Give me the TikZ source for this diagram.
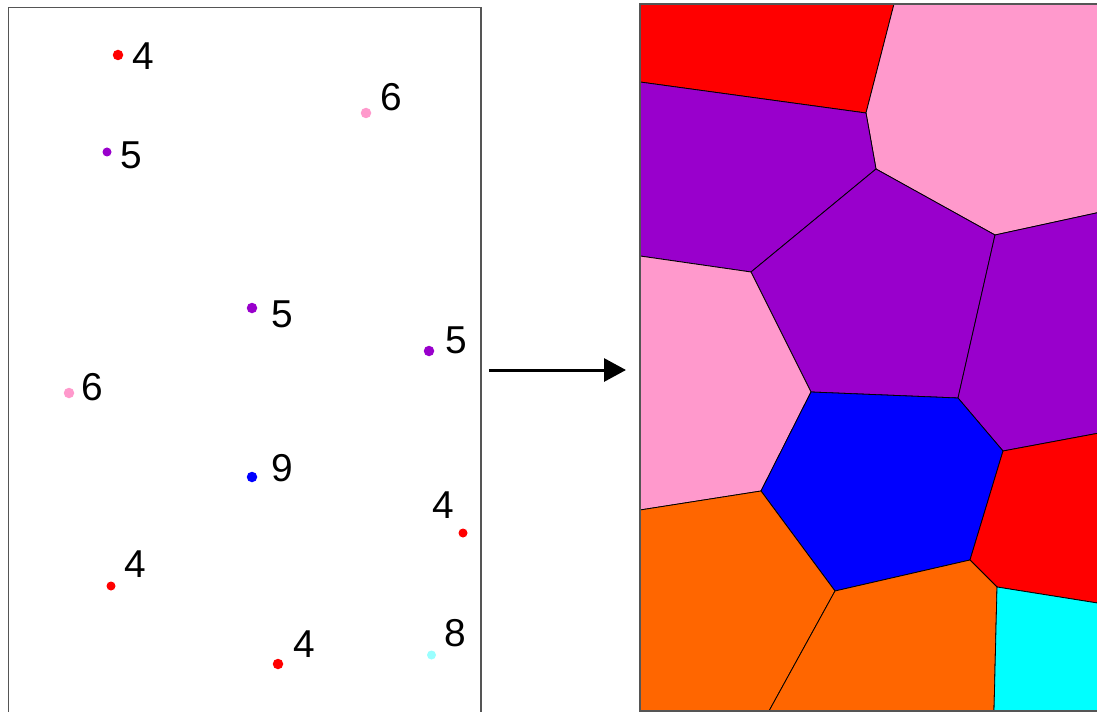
\documentclass[tikz,border=0pt]{standalone}
\usepackage{fontspec}
\setmainfont{Liberation Sans}
\usetikzlibrary{arrows.meta}
\definecolor{cred}{HTML}{FF0000}
\definecolor{cpink}{HTML}{FF99CC}
\definecolor{cpurple}{HTML}{9900CC}
\definecolor{cblue}{HTML}{0000FF}
\definecolor{corange}{HTML}{FF6600}
\definecolor{ccyan}{HTML}{00FFFF}
\definecolor{clightcyan}{HTML}{99FFFF}
\definecolor{frame}{HTML}{555555}
\begin{document}
\begin{tikzpicture}[x=1bp,y=-1bp,
  site/.style={circle,inner sep=0pt,minimum size=10.5bp,fill=#1},
  num/.style={font=\fontsize{39}{42}\selectfont,inner sep=0pt,anchor=center},
  cell/.style={fill=#1,draw=black,line width=0.8bp,line join=round},
  panel/.style={draw=frame,line width=1.2bp}]
\useasboundingbox (0,0) rectangle (1097,712);
\clip (0,0) rectangle (1097,712);

% point set
\draw[panel] (8.5,7.5) rectangle (481,730);
\node[site=cred]       (p1)  at (118,55)  {};
\node[site=cpink]      (p2)  at (366,113) {};
\node[site=cpurple,minimum size=9bp] (p3) at (107,152) {};
\node[site=cpurple]    (p4)  at (252,308) {};
\node[site=cpurple]    (p5)  at (429,351) {};
\node[site=cpink]      (p6)  at (69,393)  {};
\node[site=cblue]      (p7)  at (252,477) {};
\node[site=cred,minimum size=9bp] (p8) at (463,533) {};
\node[site=cred,minimum size=9bp] (p9) at (111,586) {};
\node[site=cred]       (p10) at (278,664) {};
\node[site=clightcyan,minimum size=9bp] (p11) at (431.5,655) {};

\node[num] (l1)  at (143.5,56)  {4};
\node[num] (l2)  at (391.5,97)  {6};
\node[num] (l3)  at (131,155)   {5};
\node[num] (l4)  at (282,314)   {5};
\node[num] (l5)  at (456.5,340) {5};
\node[num] (l6)  at (92,387)    {6};
\node[num] (l7)  at (282,468)   {9};
\node[num] (l8)  at (443,505)   {4};
\node[num] (l9)  at (135,564)   {4};
\node[num] (l10) at (304,644)   {4};
\node[num] (l11) at (455.5,633) {8};

% arrow between the panels
\coordinate (from) at (489,370);
\coordinate (to)   at (626,370);
\draw[line width=3bp,-{Triangle[length=22bp,width=23bp]}] (from) -- (to);

% Voronoi cells
\fill[cell=cred]    (640,4) -- (894,4) -- (866,113) -- (640,82) -- cycle;
\fill[cell=cpink]   (894,4) -- (1110,4) -- (1110,210) -- (995,235) -- (876,169) -- (866,113) -- cycle;
\fill[cell=cpurple] (640,82) -- (866,113) -- (876,169) -- (751,272) -- (640,256) -- cycle;
\fill[cell=cpurple] (876,169) -- (995,235) -- (958,398) -- (811,392) -- (751,272) -- cycle;
\fill[cell=cpurple] (995,235) -- (1110,210) -- (1110,431) -- (1003,451) -- (958,398) -- cycle;
\fill[cell=cpink]   (640,256) -- (751,272) -- (811,392) -- (761,491) -- (640,510) -- cycle;
\fill[cell=cblue]   (811,392) -- (958,398) -- (1003,451) -- (970,560) -- (835,591) -- (761,491) -- cycle;
\fill[cell=cred]    (1003,451) -- (1110,431) -- (1110,605) -- (997,587) -- (970,560) -- cycle;
\fill[cell=corange] (640,510) -- (761,491) -- (835,591) -- (769,711) -- (640,711) -- cycle;
\fill[cell=corange] (835,591) -- (970,560) -- (997,587) -- (994,711) -- (769,711) -- cycle;
\fill[cell=ccyan]   (997,587) -- (1110,605) -- (1110,711) -- (994,711) -- cycle;
\draw[panel] (1110,4) -- (640,4) -- (640,711) -- (1110,711);
\end{tikzpicture}
\end{document}
